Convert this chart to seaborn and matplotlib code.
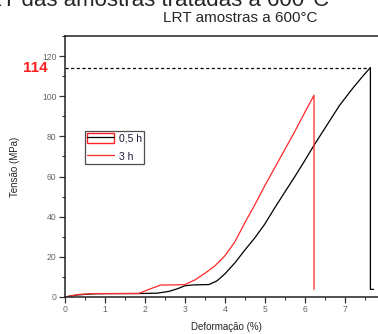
import matplotlib
matplotlib.use("Agg")
import matplotlib.pyplot as plt
import seaborn as sns
import pandas as pd
from matplotlib.lines import Line2D
from matplotlib.patches import Patch
from matplotlib.ticker import MultipleLocator
import matplotlib.transforms as mtransforms

# ---- data ----
x_05h = [0, 0.3, 0.7, 1.2, 1.8, 2.3, 2.6, 2.8, 3.0, 3.2, 3.6, 3.8, 4.0, 4.25, 4.5,
         4.75, 5.0, 5.25, 5.5, 5.75, 6.0, 6.23, 6.5, 6.87, 7.2, 7.45, 7.64, 7.64, 7.72]
y_05h = [0, 1.0, 1.6, 1.7, 1.7, 1.9, 2.8, 4.0, 5.6, 6.0, 6.2, 8.0, 11.5, 17, 23.4,
         29.5, 36.4, 44.5, 52.3, 60, 68, 75.6, 84, 95.5, 104, 110, 114.3, 3.8, 3.8]
x_3h = [0, 0.35, 0.8, 1.3, 1.85, 2.1, 2.4, 2.7, 3.0, 3.25, 3.5, 3.75, 4.0, 4.25,
        4.5, 4.75, 5.0, 5.25, 5.5, 5.75, 6.0, 6.23, 6.23]
y_3h = [0, 1.3, 1.7, 1.7, 1.8, 3.8, 6.0, 6.0, 6.2, 8.5, 11.8, 15.5, 20.5, 27.5,
        37, 46, 55.5, 64.5, 73.5, 82.5, 92, 100.5, 3.8]
series_labels = ["0,5 h", "3 h"]
peak_value = 114
peak_x = 7.64
title = "LRT amostras a 600°C"
top_text = "LRT das amostras tratadas a 600°C"
xlabel = "Deformação (%)"
ylabel = "Tensão (MPa)"

sns.set_style("ticks")
plt.rcParams['font.family'] = ['Liberation Sans', 'DejaVu Sans']

fig = plt.figure(figsize=(3.78, 3.34), dpi=100)
ax = fig.add_axes([65/378, 37/334, 1 - 65/378, (297-36)/334])

df05 = pd.DataFrame({"x": x_05h, "y": y_05h, "s": series_labels[0]})
df3 = pd.DataFrame({"x": x_3h, "y": y_3h, "s": series_labels[1]})
sns.lineplot(data=df05, x="x", y="y", sort=False, estimator=None, color="black",
             lw=0.9, ax=ax, legend=False)
sns.lineplot(data=df3, x="x", y="y", sort=False, estimator=None, color="#ff2828",
             lw=0.9, ax=ax, legend=False)

ax.plot([0, peak_x], [peak_value, peak_value], color="black", lw=0.9,
        ls=(0, (2.5, 2)), clip_on=False)

ax.set_xlim(0, 7.83)
ax.set_ylim(0, 130)
ax.xaxis.set_major_locator(MultipleLocator(1))
ax.xaxis.set_minor_locator(MultipleLocator(0.5))
ax.yaxis.set_major_locator(MultipleLocator(20))
ax.yaxis.set_minor_locator(MultipleLocator(10))
ax.set_yticks(range(0, 121, 20))
ax.tick_params(which="major", length=4, width=0.9, color="#333333",
               labelsize=6.2, labelcolor="#666666", pad=2)
ax.tick_params(which="minor", length=2.5, width=0.8, color="#333333")
for s in ["left", "bottom", "top"]:
    ax.spines[s].set_linewidth(1.1)
    ax.spines[s].set_color("#222222")
ax.spines["right"].set_visible(False)
ax.spines["top"].set_visible(True)

ax.set_xlabel(xlabel, fontsize=7, labelpad=10)
ax.set_ylabel(ylabel, fontsize=7, labelpad=16)
ax.xaxis.set_label_coords(0.515, -0.095)

trans = mtransforms.blended_transform_factory(ax.transAxes, ax.transData)
ax.text(-0.055, peak_value, str(peak_value), transform=trans, ha="right",
        va="center", color="#ff2020", fontsize=11, fontweight="bold")

fig.text(0.635, 0.945, title, ha="center", va="center", fontsize=11)
fig.text(-0.07, 1.0, top_text, ha="left", va="center", fontsize=16)

handles = [(Patch(facecolor="none", edgecolor="#ff2020", lw=1.0),
            Line2D([], [], color="black", lw=0.9)),
           Line2D([], [], color="#ff2828", lw=0.9)]
leg = ax.legend(handles, series_labels, loc="upper left",
                bbox_to_anchor=((85-65)/313, (297-130.5)/261),
                fontsize=7.5, frameon=True, fancybox=False, edgecolor="#222222",
                handlelength=2.6, handleheight=1.15, handletextpad=0.45,
                borderpad=0.2, labelspacing=0.75, borderaxespad=0)
leg.get_frame().set_linewidth(0.9)
for t in leg.get_texts():
    t.set_color("#1a1a3a")

fig.savefig("out.png", dpi=100)
